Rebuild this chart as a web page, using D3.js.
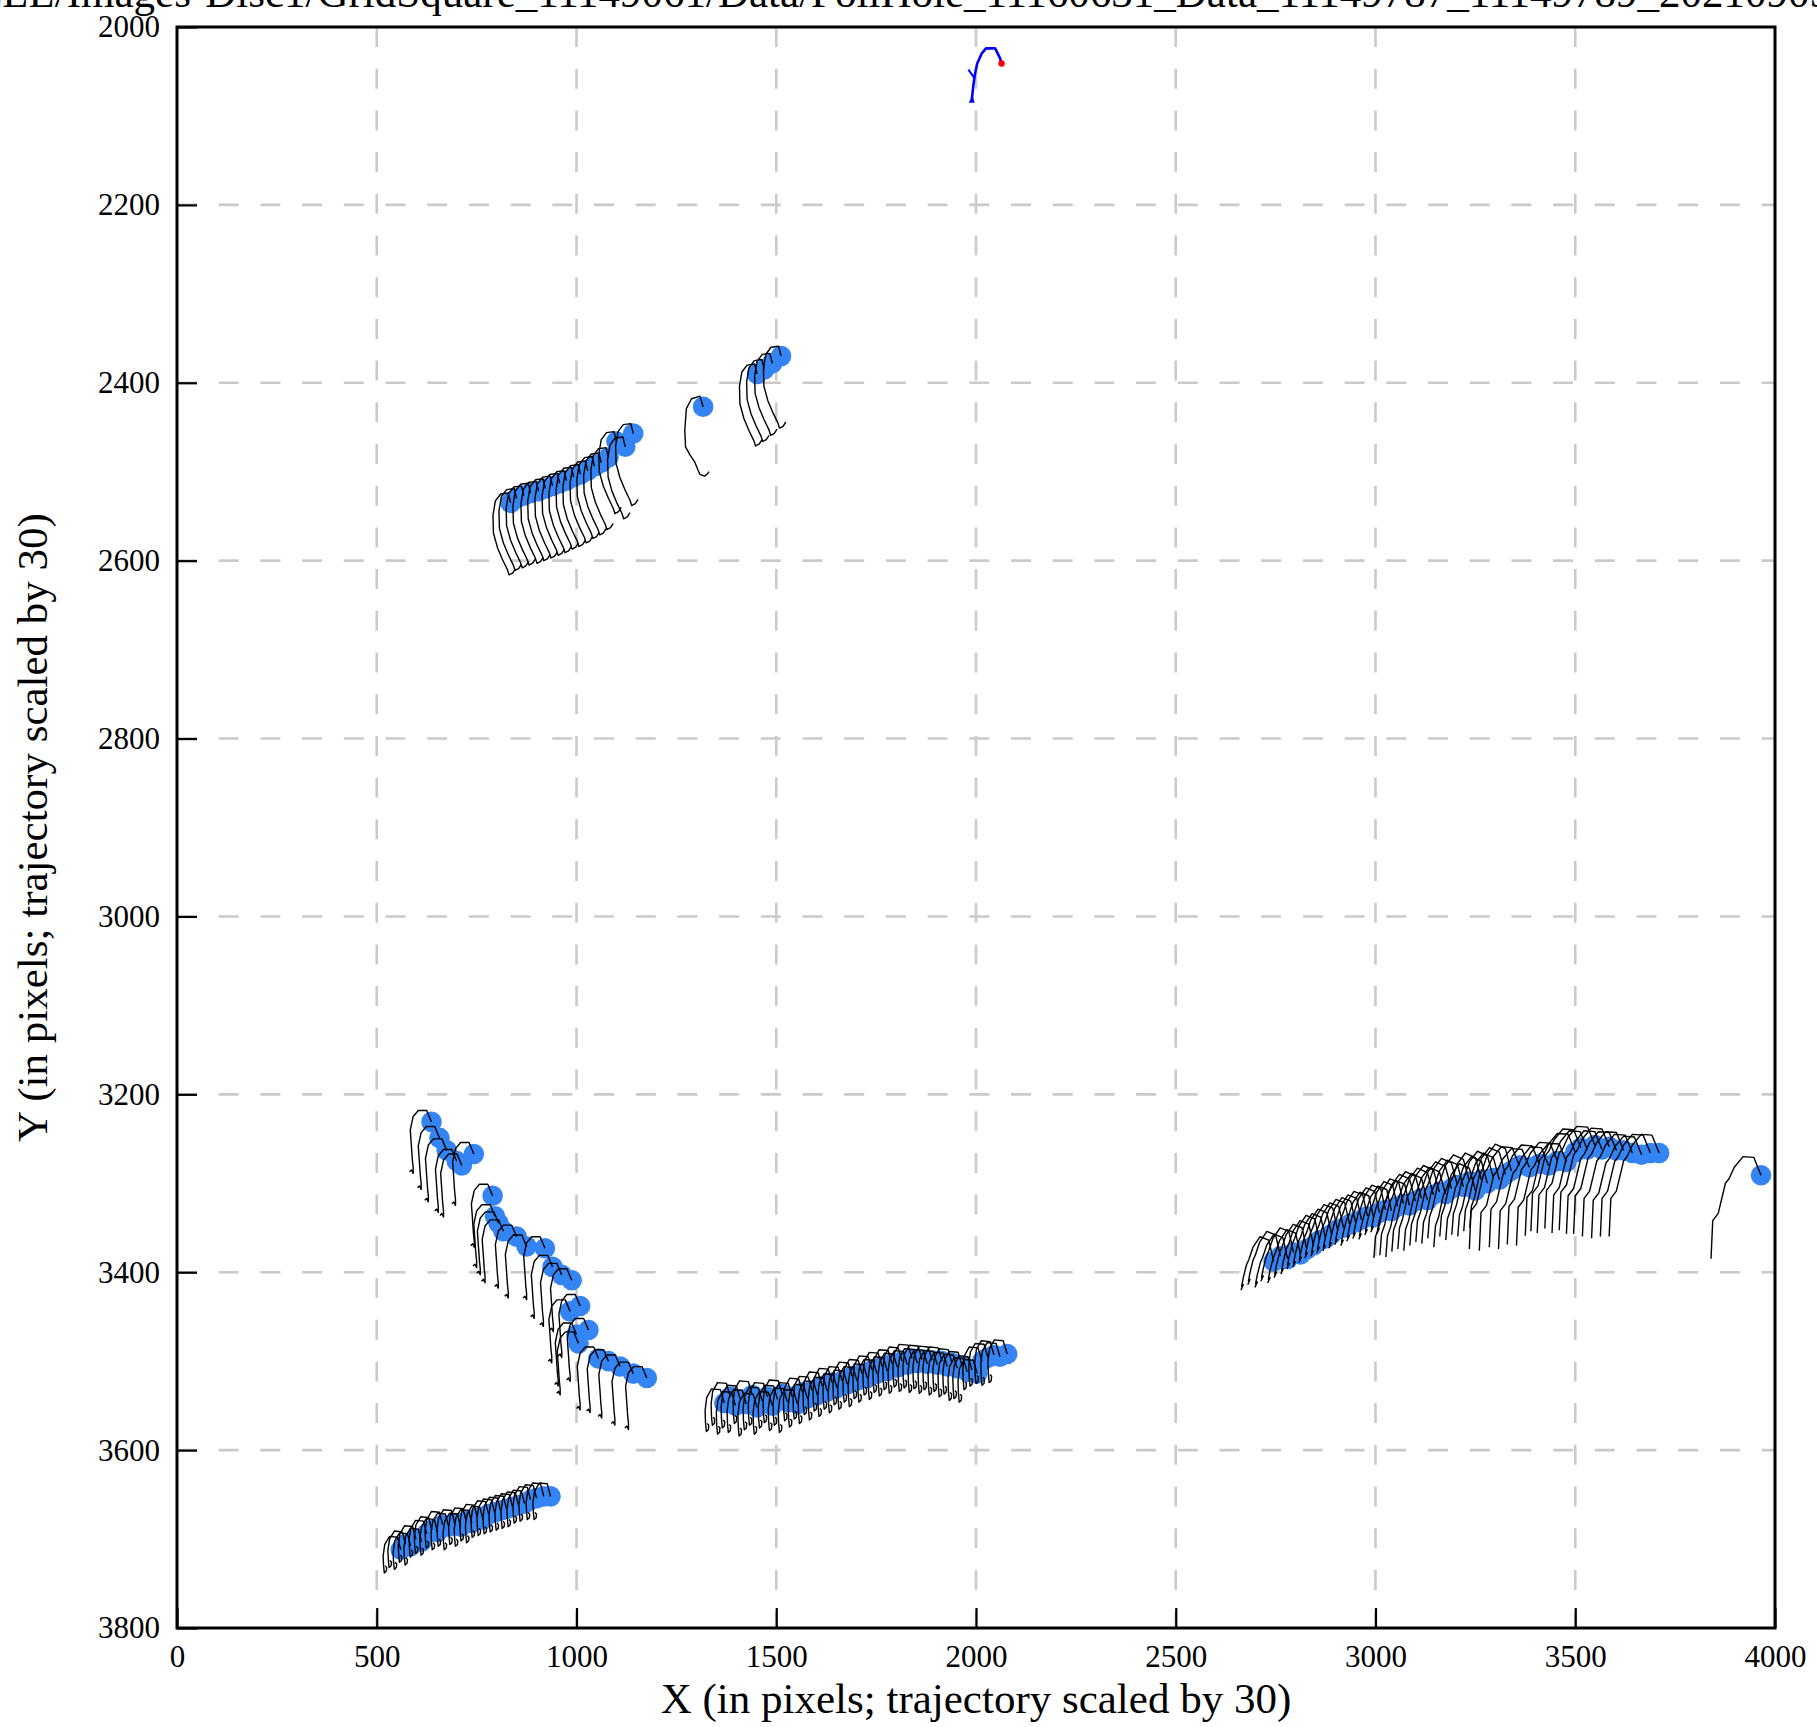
<!DOCTYPE html>
<html>
<head>
<meta charset="utf-8">
<script src="https://cdn.jsdelivr.net/npm/d3@7"></script>
<style>
  html, body { margin: 0; padding: 0; background: #fff; }
  svg { display: block; }
  text { font-family: "Liberation Serif", "Times New Roman", serif; fill: #000; }
</style>
</head>
<body>
<svg id="chart" width="1817" height="1727"></svg>
<script>
// ---------------- data ----------------
const titleText = "ELL/Images-Disc1/GridSquare_11149061/Data/FoilHole_11160631_Data_11149787_11149789_20210905";
const xLabel = "X (in pixels; trajectory scaled by 30)";
const yLabel = "Y (in pixels; trajectory scaled by 30)";
const xTicks = [0, 500, 1000, 1500, 2000, 2500, 3000, 3500, 4000];
const yTicks = [2000, 2200, 2400, 2600, 2800, 3000, 3200, 3400, 3600, 3800];
const TRAJ_SCALE = 30;

// per-cluster trajectory shapes (drift in pixels, before scaling by 30), first point = particle position
const trajA = [[0,0],[-0.2,-0.37],[-0.83,-0.33],[-1.27,-0.07],[-1.47,0.47],[-1.43,1.13],[-1.1,1.67],[-0.67,2.13],[-0.27,2.5],[-0.13,2.7],[0.17,2.63],[0.4,2.47]];
const trajB = [[0,0],[-0.27,-0.4],[-0.97,-0.3],[-1.4,0.07],[-1.53,0.87],[-1.47,1.5],[-1.1,1.8],[-0.7,2.07],[-0.43,2.37],[-0.27,2.53],[0.13,2.6],[0.33,2.53],[0.5,2.43]];
const trajD = [[0,0],[-0.4,-0.43],[-1.1,-0.43],[-1.53,-0.2],[-1.77,0.3],[-1.67,0.93],[-1.6,1.4],[-1.53,1.7],[-1.53,1.93],[-1.67,1.8],[-1.83,1.87]];
const trajE = [[0,0],[-0.33,-0.5],[-1.07,-0.53],[-1.47,-0.2],[-1.6,0.27],[-1.57,0.73],[-1.5,1.07],[-1.33,1.0],[-1.3,0.83],[-1.43,0.77]];
const trajF = [[0,0],[-0.27,-0.47],[-0.93,-0.5],[-1.33,-0.2],[-1.47,0.23],[-1.43,0.6],[-1.37,0.87],[-1.2,0.8],[-1.17,0.67],[-1.3,0.6]];
const trajG1 = [[0,0],[-0.4,-0.8],[-1.13,-0.93],[-1.73,-0.53],[-2.07,-0.07],[-2.27,0.13],[-2.53,0.6],[-2.67,0.93],[-2.53,0.87],[-2.73,1.07]];
const trajG2 = [[0,0],[-0.5,-0.83],[-1.33,-1.0],[-2.0,-0.6],[-2.4,-0.07],[-2.67,0.17],[-3.07,1.0],[-3.33,1.33],[-3.47,2.13]];
const trajG3 = [[0,0],[-0.6,-0.67],[-1.5,-0.7],[-2.23,-0.3],[-2.67,0.13],[-2.97,0.3],[-3.57,1.43],[-4.03,1.7],[-4.17,3.13]];

// particle positions (x, y in pixels) per cluster
const particlesA = [[835,2535],[850,2530],[868,2527],[885,2524],[905,2522],[922,2519],[940,2516],[958,2513],[975,2510],[993,2506],[1010,2503],[1028,2499],[1045,2494],[1062,2490],[1080,2484],[1100,2466],[1122,2472],[1142,2457]];
const particlesB = [[1317,2427]];
const particlesC = [[1452,2390],[1470,2385],[1490,2378],[1512,2370]];
const particlesD = [[637,3231],[657,3249],[675,3263],[700,3275],[713,3280],[743,3267],[790,3314],[796,3337],[805,3345],[817,3354],[850,3360],[875,3371],[921,3373],[940,3394],[963,3403],[988,3409],[1009,3438],[984,3444],[1000,3470],[1030,3465],[1005,3480],[1055,3497],[1080,3500],[1109,3506],[1142,3514],[1176,3519]];
const particlesE = [[1370,3547],[1385,3540],[1398,3550],[1410,3543],[1425,3548],[1440,3538],[1452,3552],[1465,3545],[1478,3540],[1490,3550],[1503,3543],[1515,3537],[1528,3546],[1540,3540],[1553,3548],[1566,3535],[1578,3542],[1590,3533],[1603,3538],[1615,3528],[1628,3534],[1640,3524],[1652,3530],[1665,3522],[1678,3526],[1690,3517],[1702,3522],[1715,3514],[1728,3519],[1740,3510],[1752,3514],[1765,3506],[1778,3511],[1790,3503],[1803,3507],[1815,3500],[1828,3504],[1840,3497],[1853,3502],[1865,3498],[1878,3503],[1890,3499],[1903,3504],[1915,3500],[1928,3506],[1940,3502],[1953,3508],[1965,3505],[1978,3512],[1990,3510],[2003,3514],[2015,3500],[2030,3496],[2045,3493],[2060,3495],[2078,3492]];
const particlesF = [[560,3712],[572,3706],[585,3708],[598,3700],[612,3703],[625,3694],[638,3690],[652,3692],[665,3684],[680,3686],[695,3682],[710,3686],[724,3680],[738,3682],[752,3676],[766,3678],[780,3672],[795,3670],[810,3668],[825,3666],[840,3664],[855,3662],[870,3660],[885,3656],[900,3654],[918,3652],[935,3652]];
const particlesG1 = [[2745,3388],[2762,3382],[2780,3385],[2795,3378],[2812,3380],[2828,3374],[2845,3370],[2860,3364],[2875,3362],[2890,3357],[2905,3352],[2920,3350],[2935,3346],[2950,3344],[2965,3341],[2980,3337],[2995,3338],[3010,3333],[3025,3330],[3040,3331],[3055,3326],[3070,3323],[3085,3325]];
const particlesG2 = [[3100,3320],[3115,3317],[3130,3319],[3145,3313],[3160,3310],[3175,3312],[3190,3306],[3205,3302],[3220,3304],[3235,3298],[3250,3308],[3265,3296],[3280,3300],[3295,3294],[3310,3296],[3325,3290],[3340,3286]];
const particlesG3 = [[3360,3280],[3385,3282],[3410,3278],[3433,3280],[3455,3275],[3478,3276],[3500,3265],[3514,3260],[3530,3262],[3549,3257],[3567,3262],[3585,3259],[3603,3263],[3621,3263],[3643,3266],[3666,3268],[3688,3266],[3710,3266],[3965,3291]];

// global (whole-frame) trajectory, drawn in blue, with its end marked in red
const globalTraj = [[1989,2084],[1993,2067],[1997,2054],[2003,2041],[2014,2030],[2025,2024],[2048,2024],[2060,2035],[2064,2041]];
const globalSpur = [[1981,2048],[1997,2058]];

const clusters = [
  {pts: particlesA, traj: trajA},
  {pts: particlesB, traj: trajB},
  {pts: particlesC, traj: trajA},
  {pts: particlesD, traj: trajD},
  {pts: particlesE, traj: trajE},
  {pts: particlesF, traj: trajF},
  {pts: particlesG1, traj: trajG1},
  {pts: particlesG2, traj: trajG2},
  {pts: particlesG3, traj: trajG3}
];

// ---------------- drawing ----------------
const W = 1817, H = 1727;
const L = 177, R = 1775, T = 27, B = 1628;
const svg = d3.select("#chart");
svg.append("rect").attr("width", W).attr("height", H).attr("fill", "#fff");

const x = d3.scaleLinear().domain([0, 4000]).range([L, R]);
const y = d3.scaleLinear().domain([2000, 3800]).range([T, B]);

// title (clipped at the top of the canvas)
svg.append("text").attr("x", -24).attr("y", 7)
  .attr("font-size", 43).text(titleText);

// grid
const grid = svg.append("g").attr("stroke", "#cacaca").attr("stroke-width", 2.6)
  .attr("stroke-dasharray", "20,21.7").attr("fill", "none");
grid.selectAll("line.gx").data(xTicks.slice(1, -1)).join("line").attr("class", "gx")
  .attr("x1", d => x(d)).attr("x2", d => x(d)).attr("y1", T).attr("y2", B);
grid.selectAll("line.gy").data(yTicks.slice(1, -1)).join("line").attr("class", "gy")
  .attr("y1", d => y(d)).attr("y2", d => y(d)).attr("x1", L).attr("x2", R);

// particles (blue discs)
const allPts = clusters.flatMap(c => c.pts);
svg.append("g").selectAll("circle").data(allPts).join("circle")
  .attr("cx", d => x(d[0])).attr("cy", d => y(d[1])).attr("r", 10.3)
  .attr("fill", "#3484f4");

// trajectories (black)
const line = d3.line().x(d => x(d[0])).y(d => y(d[1]));
const trajData = clusters.flatMap(c => c.pts.map(p => c.traj.map(t => [p[0] + t[0] * TRAJ_SCALE, p[1] + t[1] * TRAJ_SCALE])));
svg.append("g").selectAll("path").data(trajData).join("path")
  .attr("d", line).attr("fill", "none").attr("stroke", "#000").attr("stroke-width", 1.4)
  .attr("stroke-linejoin", "round");

// global trajectory
svg.append("path").attr("d", line(globalTraj)).attr("fill", "none")
  .attr("stroke", "#0000ff").attr("stroke-width", 2.6).attr("stroke-linejoin", "round");
svg.append("path").attr("d", line(globalSpur)).attr("fill", "none")
  .attr("stroke", "#0000ff").attr("stroke-width", 2);
const g0 = globalTraj[0];
svg.append("path")
  .attr("d", `M${x(g0[0]) - 3},${y(g0[1]) + 1}L${x(g0[0]) + 1},${y(g0[1]) - 6}L${x(g0[0]) + 3},${y(g0[1]) + 1}Z`)
  .attr("fill", "#0000ff");
const last = globalTraj[globalTraj.length - 1];
svg.append("circle").attr("cx", x(last[0])).attr("cy", y(last[1])).attr("r", 3.2).attr("fill", "#ff0000");

// axes
const xAxis = d3.axisBottom(x).tickValues(xTicks).tickSizeInner(-20).tickSizeOuter(0).tickPadding(17).tickFormat(d3.format("d"));
const gx = svg.append("g").attr("transform", `translate(0,${B})`).call(xAxis);
const yAxis = d3.axisLeft(y).tickValues(yTicks).tickSizeInner(-20).tickSizeOuter(0).tickPadding(17).tickFormat(d3.format("d"));
const gy = svg.append("g").attr("transform", `translate(${L},0)`).call(yAxis);
[gx, gy].forEach(g => {
  g.select(".domain").remove();
  g.selectAll(".tick line").attr("stroke", "#000").attr("stroke-width", 2.2);
  g.selectAll(".tick text").attr("font-size", 31).attr("font-family", "Liberation Serif, serif").attr("fill", "#000");
});

// frame
svg.append("rect").attr("x", L).attr("y", T).attr("width", R - L).attr("height", B - T)
  .attr("fill", "none").attr("stroke", "#000").attr("stroke-width", 3);

// axis labels
svg.append("text").attr("x", (L + R) / 2).attr("y", 1713).attr("text-anchor", "middle")
  .attr("font-size", 43).text(xLabel);
svg.append("text").attr("transform", `translate(47,${(T + B) / 2}) rotate(-90)`)
  .attr("text-anchor", "middle").attr("font-size", 43).text(yLabel);
</script>
</body>
</html>
